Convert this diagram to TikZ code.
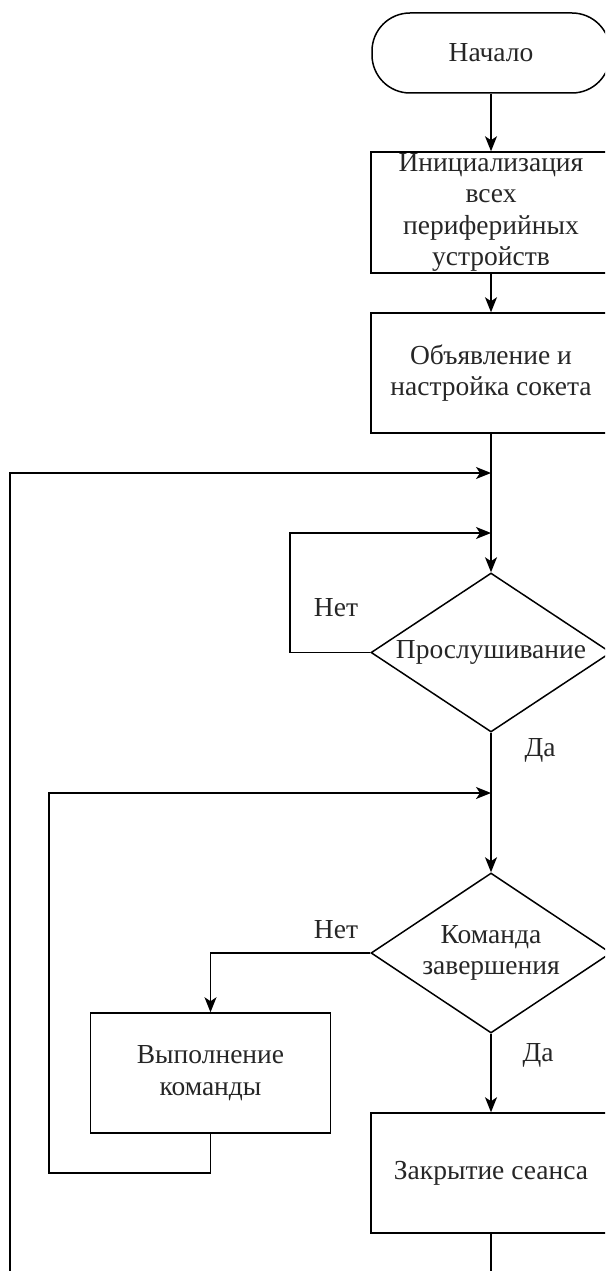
\documentclass[tikz,border=0pt]{standalone}
\usepackage{fontspec}
\setmainfont{Liberation Serif}
\usetikzlibrary{shapes.geometric,arrows.meta}
\begin{document}
\begin{tikzpicture}[x=1pt,y=-1pt, line width=1.5pt,
  every node/.style={font=\fontsize{27.5}{31.5}\selectfont, text=black!85},
  box/.style={draw, rectangle, minimum width=240pt, minimum height=120pt, align=center, inner sep=0pt},
  term/.style={draw, rectangle, rounded corners=38pt, minimum width=238pt, minimum height=80pt, inner sep=0pt},
  dec/.style={draw, diamond, shape aspect=1.5, minimum width=240pt, minimum height=160pt, inner sep=0pt, align=center},
  lbl/.style={inner sep=0pt},
  arr/.style={-{Stealth[length=15pt,width=12pt,inset=4pt]}}
]
\useasboundingbox (0,0) rectangle (605,1271);
\clip (0,0) rectangle (605,1271);

\node[term] (start) at (491,53) {Начало};
\node[box, minimum height=121pt] (init) at (491,212.5) {Инициализация\\всех\\периферийных\\устройств};
\node[box] (decl) at (491,373) {Объявление и\\настройка сокета};
\node[dec, minimum height=159pt] (listen) at (491,652.5) {Прослушивание};
\node[dec] (cmd) at (491,953) {Команда\\завершения};
\node[box] (exec) at (210.5,1073) {Выполнение\\команды};
\node[box] (close) at (491,1173) {Закрытие сеанса};

\coordinate (m1) at (491,473);
\coordinate (m2) at (491,533);
\coordinate (m3) at (491,793);
\coordinate (nl) at (290,533);
\coordinate (el) at (49,1173);
\coordinate (bl) at (10,1290);
\coordinate (bc) at (491,1290);

\draw[arr] (start.south) -- (init.north);
\draw[arr] (init.south) -- (decl.north);
\draw[arr] (decl.south) -- (listen.north);
\draw[arr] (bl) |- (m1);
\draw[arr] (listen.west) -| (nl) -- (m2);
\draw[arr] (listen.south) -- (cmd.north);
\draw[arr] (exec.south) |- (el) |- (m3);
\draw[arr] (cmd.west) -| (exec.north);
\draw[arr] (cmd.south) -- (close.north);
\draw (close.south) -- (bc);

\node[lbl] (no1) at (336,608) {Нет};
\node[lbl] (yes1) at (540,750) {Да};
\node[lbl] (no2) at (336,930) {Нет};
\node[lbl] (yes2) at (538,1055) {Да};
\end{tikzpicture}
\end{document}
